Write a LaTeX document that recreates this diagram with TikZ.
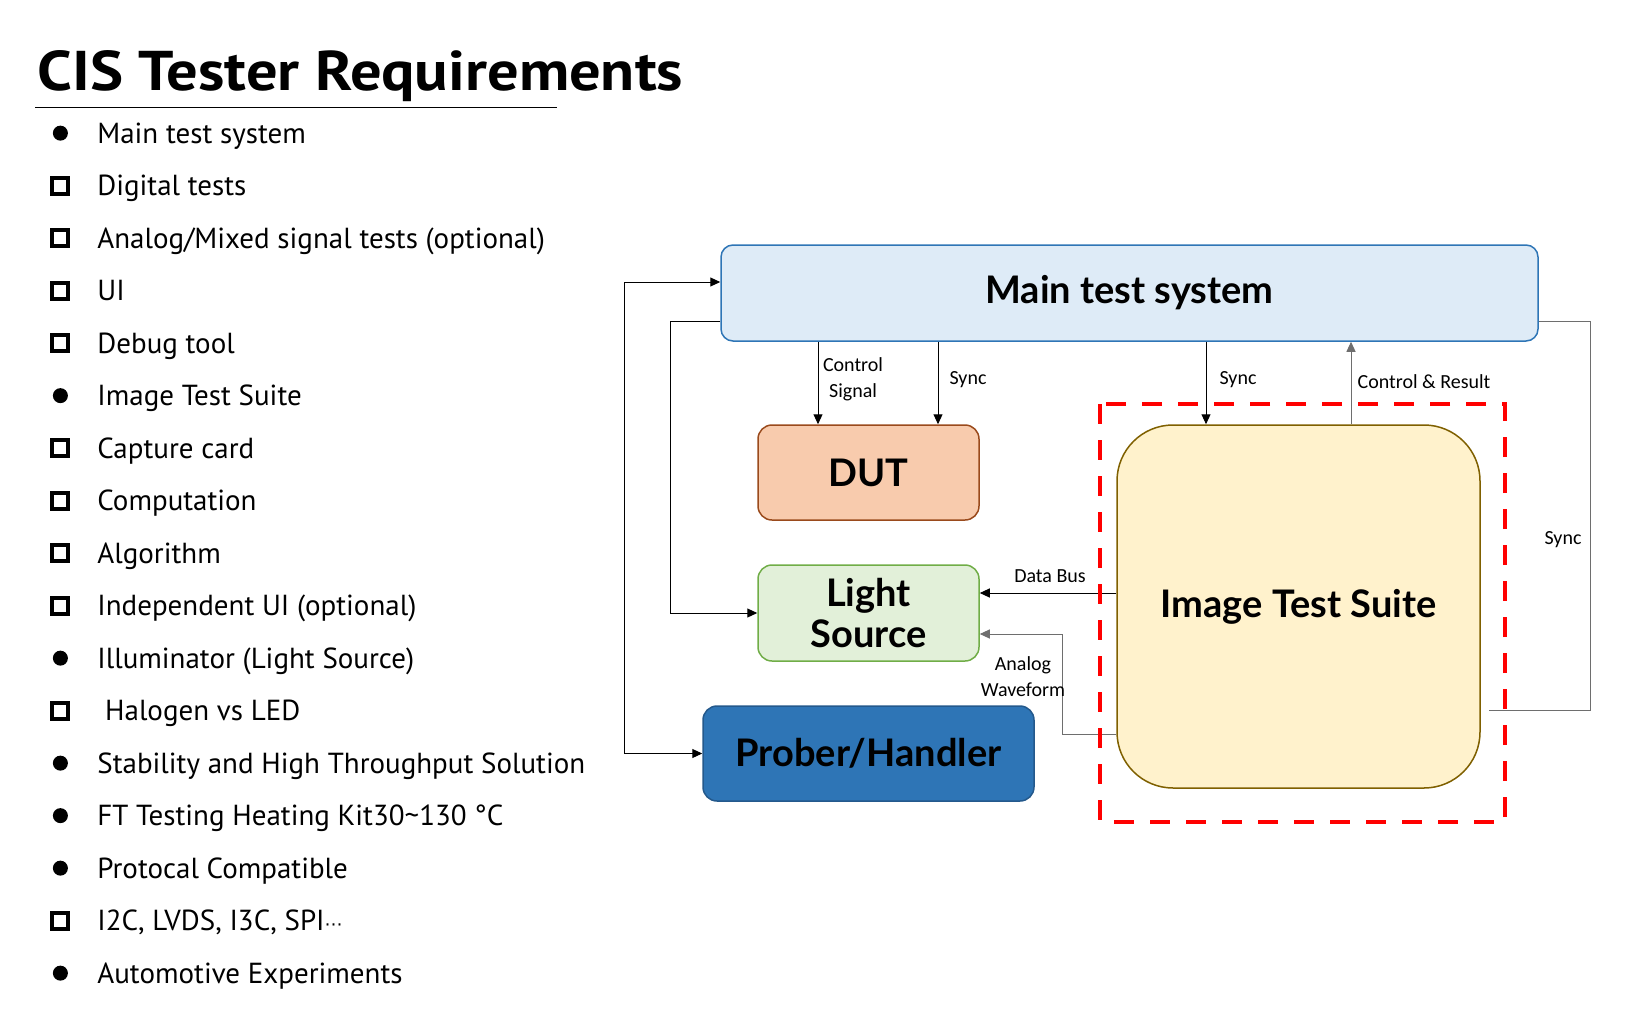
\documentclass[tikz,border=0pt]{standalone}
\usepackage{fontspec}
\setmainfont{PT Sans}
\newfontfamily\boxfont{Lato}
\newfontfamily\lblfont{Carlito}
\newfontfamily\symfont{DejaVu Sans}
\usetikzlibrary{arrows.meta}

\definecolor{mainfill}{HTML}{DEEBF7}
\definecolor{mainline}{HTML}{2E75B6}
\definecolor{dutfill}{HTML}{F8CBAD}
\definecolor{dutline}{HTML}{9A4A1C}
\definecolor{lsfill}{HTML}{E2F0D9}
\definecolor{lsline}{HTML}{70AD47}
\definecolor{probfill}{HTML}{2E75B6}
\definecolor{probline}{HTML}{24598C}
\definecolor{itsfill}{HTML}{FFF2CC}
\definecolor{itsline}{HTML}{7F6000}
\definecolor{wire}{HTML}{6E6E6E}

\newcommand\dotmark{\tikz[baseline={(0pt,-5pt)}]\fill (0pt,0pt) circle (3.75pt);}
\newcommand\boxmark{\tikz[baseline={(0pt,-5pt)}]\draw[line width=2pt] (-4pt,-4pt) rectangle (4pt,4pt);}

\begin{document}
\begin{tikzpicture}[x=0.5pt,y=-0.5pt,
  box/.style={draw,line width=0.75pt,rounded corners=6pt,align=center,
    font=\boxfont\bfseries\fontsize{19}{20.5}\selectfont},
  arr/.style={>={Triangle[length=5pt,width=4.5pt]},->,line width=0.5pt},
  lbl/.style={font=\lblfont\fontsize{10}{13}\selectfont,align=center,inner sep=0pt}]

\useasboundingbox (0,0) rectangle (1632,1012);

\node[anchor=base west,inner sep=0pt,font=\bfseries\fontsize{28}{32}\selectfont] (title) at (37,90) {\scalebox{1.115}[1]{CIS Tester Requirements}};
\draw[line width=0.5pt] (35,107) -- (557,107);

\node[anchor=north west,inner sep=0pt] (reqs) at (50,106) {\fontsize{14.5}{26.25}\selectfont
  \begin{tabular}{@{}c@{\hspace{13.5pt}}l@{}}
  \dotmark & Main test system \\
  \boxmark & Digital tests \\
  \boxmark & Analog/Mixed signal tests (optional) \\
  \boxmark & UI \\
  \boxmark & Debug tool \\
  \dotmark & Image Test Suite \\
  \boxmark & Capture card \\
  \boxmark & Computation \\
  \boxmark & Algorithm \\
  \boxmark & Independent UI (optional) \\
  \dotmark & Illuminator (Light Source) \\
  \boxmark & \ Halogen vs LED \\
  \dotmark & Stability and High Throughput Solution \\
  \dotmark & FT Testing Heating Kit30\textasciitilde130 °C \\
  \dotmark & Protocal Compatible \\
  \boxmark & I2C, LVDS, I3C, SPI{\symfont\fontsize{9}{9}\selectfont ⋯} \\
  \dotmark & Automotive Experiments
  \end{tabular}};

\node[box,fill=mainfill,draw=mainline,minimum width=408.5pt,minimum height=48pt] (main) at (1129.5,293) {Main test system};
\node[box,fill=dutfill,draw=dutline,rounded corners=7pt,minimum width=110.5pt,minimum height=47.5pt] (dut) at (868.5,472.5) {DUT};
\node[box,fill=lsfill,draw=lsline,rounded corners=7pt,minimum width=110.5pt,minimum height=48pt] (ls) at (868.5,613) {Light\\Source};
\node[box,fill=probfill,draw=probline,rounded corners=7pt,minimum width=165.5pt,minimum height=47.5pt] (prober) at (868.5,753.5) {Prober/Handler};
\node[box,fill=itsfill,draw=itsline,rounded corners=28pt,minimum width=181.5pt,minimum height=181.5pt] (its) at (1298.5,606.5) {Image Test Suite};

\draw[arr,<->] ([yshift=5.5pt]main.west) -- ++(-96,0) |- (prober.west);
\draw[arr] ([yshift=-14pt]main.west) -- ++(-50,0) |- (ls.west);
\draw[arr] ([xshift=-25.25pt]dut.north |- main.south) -- ([xshift=-25.25pt]dut.north);
\draw[arr] ([xshift=34.75pt]dut.north |- main.south) -- ([xshift=34.75pt]dut.north);
\draw[arr] ([xshift=-46.25pt]its.north |- main.south) -- ([xshift=-46.25pt]its.north);
\draw[arr,wire] ([xshift=26.25pt]its.north) -- ([xshift=26.25pt]its.north |- main.south);
\draw[arr] ([yshift=6.75pt]its.west) -- ([yshift=6.75pt]its.west -| ls.east);
\draw[arr,wire] ([yshift=-63.75pt]its.west) -- ++(-54,0) |- ([yshift=-10.5pt]ls.east);
\draw[line width=0.5pt,wire] ([yshift=-14pt]main.east) -- ++(52,0) |- ([xshift=4pt,yshift=-51.75pt]its.east);

\node[lbl] (ctllbl) at (853,379) {Control\\Signal};
\node[lbl] (dutsync) at (968,380) {Sync};
\node[lbl] (itssync) at (1238,380) {Sync};
\node[lbl] (reslbl) at (1424,382) {Control \& Result};
\node[lbl] (rsync) at (1563,540) {Sync};
\node[lbl] (buslbl) at (1050,576) {Data Bus};
\node[lbl] (wavelbl) at (1023,677) {Analog\\Waveform};

\draw[red,line width=2pt,dash pattern=on 10pt off 8pt] (1100,404) rectangle (1505,822);

\end{tikzpicture}
\end{document}
